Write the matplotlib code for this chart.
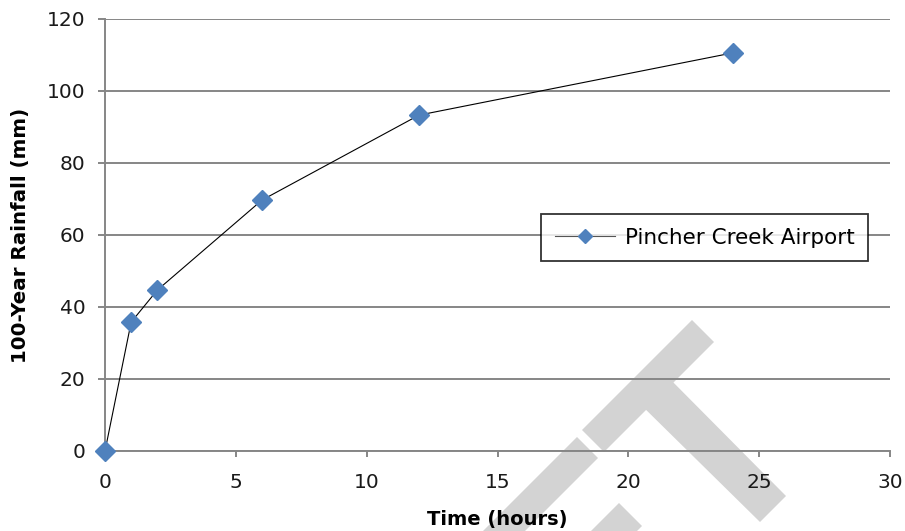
import matplotlib
matplotlib.use("Agg")
import matplotlib.pyplot as plt
from matplotlib.patches import Polygon

# rainfall depth vs duration
hours = [0, 1, 2, 6, 12, 24]
rain_mm = [0, 35.8, 44.7, 69.7, 93.3, 110.6]
series_name = "Pincher Creek Airport"

xticks = [0, 5, 10, 15, 20, 25, 30]
yticks = [0, 20, 40, 60, 80, 100, 120]

W, H = 905, 531
fig = plt.figure(figsize=(W / 100, H / 100), dpi=100)
plt.rcParams['font.family'] = ['DejaVu Sans']

ax = fig.add_axes([105 / W, 1 - 451 / H, 785 / W, 432 / H])
ax.set_zorder(2)
ax.patch.set_alpha(0)

grid_col = "#868686"
ax.plot(hours, rain_mm, color="black", lw=0.8, marker="D", ms=10,
        mfc="#4f81bd", mec="#4f81bd", label=series_name, clip_on=False, zorder=3)

ax.set_xlim(0, 30)
ax.set_ylim(0, 120)
ax.set_xticks(xticks)
ax.set_yticks(yticks)
ax.yaxis.grid(True, color=grid_col, lw=1.4)
ax.set_axisbelow(True)
for s in ["top", "right"]:
    ax.spines[s].set_visible(False)
for s in ["left", "bottom"]:
    ax.spines[s].set_color(grid_col)
    ax.spines[s].set_linewidth(1.4)
ax.tick_params(axis="both", colors=grid_col, labelcolor="#1a1a1a", labelsize=14.5, width=1.4)
ax.tick_params(axis="y", length=5, pad=9)
ax.tick_params(axis="x", length=4, pad=12)

ax.set_xlabel("Time (hours)", fontsize=14, fontweight="bold", labelpad=13)
ax.set_ylabel("100-Year Rainfall (mm)", fontsize=14.3, fontweight="bold", labelpad=12)

leg = ax.legend(loc="center", bbox_to_anchor=(704.5 / W, 1 - 237.5 / H),
                bbox_transform=fig.transFigure, fontsize=15.5, frameon=True,
                fancybox=False, handlelength=2.8, borderpad=0.62, handletextpad=0.45,
                borderaxespad=0)
leg.get_frame().set_edgecolor("black")
leg.get_frame().set_linewidth(1.3)
leg.get_lines()[0].set_color("#555555")
leg.get_lines()[0].set_markersize(7.5)

# grey watermark strokes (pixel coords of the picture)
marks = [
    [(692, 320), (714, 342), (604, 452), (582, 430)],
    [(634, 398), (662, 371), (786, 496), (760, 522)],
    [(577, 437), (598, 458), (498, 558), (477, 537)],
    [(619, 503), (642, 526), (612, 556), (589, 533)],
]
for pts in marks:
    fig.patches.append(Polygon([(x / W, 1 - y / H) for x, y in pts], closed=True,
                               transform=fig.transFigure, facecolor="#d3d3d3",
                               edgecolor="none", zorder=0.5))

fig.savefig("out.png", dpi=100)
